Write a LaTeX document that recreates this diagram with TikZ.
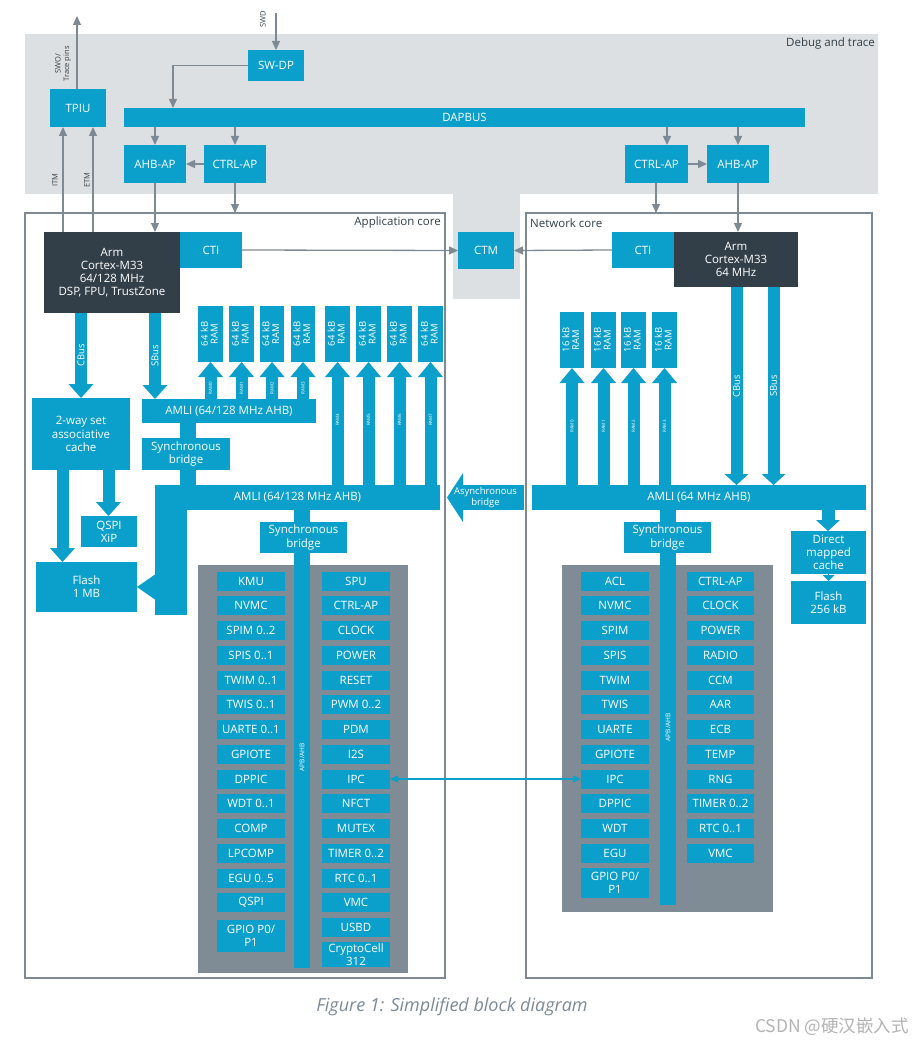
\documentclass[tikz,border=0pt]{standalone}
\usepackage{fontspec}
\setmainfont{Open Sans}
\newfontfamily\cjkf{Noto Sans CJK SC}
\usetikzlibrary{arrows.meta,calc}
\pgfdeclarelayer{bg}\pgfdeclarelayer{mid}\pgfsetlayers{bg,mid,main}
\definecolor{nblue}{HTML}{0BA0CB}
\definecolor{ndark}{HTML}{333F48}
\definecolor{dbg}{HTML}{DCE0E2}
\definecolor{pgray}{HTML}{7F8B95}
\definecolor{lgray}{HTML}{7E8A93}
\definecolor{txtd}{HTML}{333F48}
\definecolor{capc}{HTML}{7D8A96}
\definecolor{wmc}{HTML}{B4B4B4}
\tikzset{
 blk/.style={fill=nblue,text=white,inner sep=0pt,outer sep=0pt,align=center,font=\fontsize{11.5}{13.2}\selectfont},
 tarr/.style={draw=lgray,line width=1.3pt,-{Triangle[length=9pt,width=8pt]}},
 fat/.style={draw=nblue,line width=12pt,-{Triangle[length=14pt,width=25pt,line width=0pt]}},
 fatR/.style={draw=nblue,line width=12pt,-{Triangle[length=11pt,width=24pt,line width=0pt]}},
 ramarr/.style={draw=nblue,line width=12pt,-{Triangle[length=15pt,width=25pt,line width=0pt]}},
 bar/.style={draw=nblue,line width=16pt},
 lbl/.style={text=txtd,font=\fontsize{7.5}{8.5}\selectfont,inner sep=0pt,align=center},
 wl/.style={text=white,inner sep=0pt},
}
\newcommand\bx[7][]{\node[blk,minimum width={(#5)-(#3)},minimum height={(#6)-(#4)},#1] (#2) at ({((#3)+(#5))/2},{((#4)+(#6))/2}) {#7};}
\newcommand\per[5]{\node[blk,minimum width={(#3)-(#2)},minimum height=19] (#1) at ({((#2)+(#3))/2},{581+24.75*(#4)}) {#5};}
\newcommand\ramlbl[1]{\rotatebox{90}{\fontsize{9.5}{9.5}\selectfont\begin{tabular}{@{}c@{}}#1\\RAM\end{tabular}}}
\newcommand\busf{\fontsize{9.5}{10}\selectfont}
\newcommand\tinyf{\fontsize{4.5}{5}\selectfont}
\begin{document}
\begin{tikzpicture}[x=1pt,y=-1pt]
\useasboundingbox (0,0) rectangle (913,1043);
\foreach \v/\n in {63/63,77/77,93/93,155/155,173/173,188/188,235/235,656/656,667/667,738/738,828/828,171/171,81/81,62.5/62,108.5/108,736.5/737,773.5/774} {\coordinate (c\n) at (\v,0);}
\begin{pgfonlayer}{bg}
\fill[white] (0,0) rectangle (913,1043);
\fill[dbg] (25,34) rectangle (878,194);
\fill[dbg] (453,193) rectangle (520,299);
\bx[fill=pgray]{perL}{198}{565}{408}{973}{}
\bx[fill=pgray]{perR}{562}{565}{773}{912}{}
\end{pgfonlayer}
% debug and trace
\node[text=txtd,font=\fontsize{11.5}{12}\selectfont,anchor=east,inner sep=0pt] (dbglbl) at (875,44) {Debug and trace};
\bx{swdp}{248}{50}{304}{81}{SW-DP}
\bx{tpiu}{50}{89}{106}{127}{TPIU}
\bx{dapbus}{124}{108}{805}{127}{DAPBUS}
\bx{ahbL}{124}{145}{186}{183}{AHB-AP}
\bx{ctrlL}{204}{145}{266}{183}{CTRL-AP}
\bx{ctrlR}{625}{145}{688}{183}{CTRL-AP}
\bx{ahbR}{707}{145}{769}{183}{AHB-AP}
% cores
\bx[fill=none,draw=lgray,line width=1.2pt]{appcore}{25}{213}{445}{978}{}
\bx[fill=none,draw=lgray,line width=1.2pt]{netcore}{526}{213}{872}{978}{}
\node[text=txtd,font=\fontsize{11.5}{12}\selectfont,anchor=east,inner sep=0pt] (applbl) at (441,223) {Application core};
\node[text=txtd,font=\fontsize{11.5}{12}\selectfont,anchor=west,inner sep=0pt] (netlbl) at (530,223) {Network core};
\bx[fill=ndark]{cpuL}{44}{232}{180}{313}{Arm\\Cortex-M33\\64/128 MHz\\DSP, FPU, TrustZone}
\bx{ctiL}{180}{232}{242}{268}{CTI}
\bx{ctm}{458}{232}{514}{269}{CTM}
\bx{ctiR}{612}{232}{674}{268}{CTI}
\bx[fill=ndark]{cpuR}{674}{232}{798}{287}{Arm\\Cortex-M33\\64 MHz}
% application core memory
\bx{cacheL}{32}{398}{130}{470}{2-way set\\associative\\cache}
\bx{qspix}{81}{516}{137}{547}{QSPI\\XiP}
\bx{flashL}{36}{562}{137}{612}{Flash\\1 MB}
\bx{amliU}{142}{399}{316}{423}{AMLI (64/128 MHz AHB)}
\bx{sbU}{142}{438}{230}{470}{Synchronous\\bridge}
\bx{amliL}{155}{485}{440}{510}{AMLI (64/128 MHz AHB)}
\bx{sbL}{260}{522}{347}{553}{Synchronous\\bridge}
\bx{ramL0}{198}{306}{223}{362}{\ramlbl{64 kB}}
\bx{ramL1}{229}{306}{254}{362}{\ramlbl{64 kB}}
\bx{ramL2}{260}{306}{284}{362}{\ramlbl{64 kB}}
\bx{ramL3}{291}{306}{315}{362}{\ramlbl{64 kB}}
\bx{ramL4}{325}{306}{350}{362}{\ramlbl{64 kB}}
\bx{ramL5}{356}{306}{381}{362}{\ramlbl{64 kB}}
\bx{ramL6}{387}{306}{412}{362}{\ramlbl{64 kB}}
\bx{ramL7}{418}{306}{443}{362}{\ramlbl{64 kB}}
% network core memory
\bx{ramR0}{560}{312}{584}{368}{\ramlbl{16 kB}}
\bx{ramR1}{591}{312}{616}{368}{\ramlbl{16 kB}}
\bx{ramR2}{621}{312}{646}{368}{\ramlbl{16 kB}}
\bx{ramR3}{652}{312}{677}{368}{\ramlbl{16 kB}}
\bx{amliR}{532}{485}{866}{510}{AMLI (64 MHz AHB)}
\bx{sbR}{624}{522}{711}{553}{Synchronous\\bridge}
\bx{dmc}{791}{531}{866}{574}{Direct\\mapped\\cache}
\bx{flashR}{791}{581}{866}{624}{Flash\\256 kB}
% application peripherals
\per{aKMU}{217}{285}{0}{KMU}
\per{aNVMC}{217}{285}{1}{NVMC}
\per{aSPIM}{217}{285}{2}{SPIM 0..2}
\per{aSPIS}{217}{285}{3}{SPIS 0..1}
\per{aTWIM}{217}{285}{4}{TWIM 0..1}
\per{aTWIS}{217}{285}{5}{TWIS 0..1}
\per{aUARTE}{217}{285}{6}{UARTE 0..1}
\per{aGPIOTE}{217}{285}{7}{GPIOTE}
\per{aDPPIC}{217}{285}{8}{DPPIC}
\per{aWDT}{217}{285}{9}{WDT 0..1}
\per{aCOMP}{217}{285}{10}{COMP}
\per{aLPCOMP}{217}{285}{11}{LPCOMP}
\per{aEGU}{217}{285}{12}{EGU 0..5}
\per{aQSPI}{217}{285}{13}{QSPI}
\bx{aGPIO}{217}{920}{285}{952}{GPIO P0/\\P1}
\per{aSPU}{322}{390}{0}{SPU}
\per{aCTRLAP}{322}{390}{1}{CTRL-AP}
\per{aCLOCK}{322}{390}{2}{CLOCK}
\per{aPOWER}{322}{390}{3}{POWER}
\per{aRESET}{322}{390}{4}{RESET}
\per{aPWM}{322}{390}{5}{PWM 0..2}
\per{aPDM}{322}{390}{6}{PDM}
\per{aI2S}{322}{390}{7}{I2S}
\per{aIPC}{322}{390}{8}{IPC}
\per{aNFCT}{322}{390}{9}{NFCT}
\per{aMUTEX}{322}{390}{10}{MUTEX}
\per{aTIMER}{322}{390}{11}{TIMER 0..2}
\per{aRTC}{322}{390}{12}{RTC 0..1}
\per{aVMC}{322}{390}{13}{VMC}
\per{aUSBD}{322}{390}{14}{USBD}
\bx{aCC}{322}{942}{390}{967}{CryptoCell\\312}
% network peripherals
\per{nACL}{581}{649}{0}{ACL}
\per{nNVMC}{581}{649}{1}{NVMC}
\per{nSPIM}{581}{649}{2}{SPIM}
\per{nSPIS}{581}{649}{3}{SPIS}
\per{nTWIM}{581}{649}{4}{TWIM}
\per{nTWIS}{581}{649}{5}{TWIS}
\per{nUARTE}{581}{649}{6}{UARTE}
\per{nGPIOTE}{581}{649}{7}{GPIOTE}
\per{nIPC}{581}{649}{8}{IPC}
\per{nDPPIC}{581}{649}{9}{DPPIC}
\per{nWDT}{581}{649}{10}{WDT}
\per{nEGU}{581}{649}{11}{EGU}
\bx{nGPIO}{581}{868}{649}{898}{GPIO P0/\\P1}
\per{nCTRLAP}{687}{754}{0}{CTRL-AP}
\per{nCLOCK}{687}{754}{1}{CLOCK}
\per{nPOWER}{687}{754}{2}{POWER}
\per{nRADIO}{687}{754}{3}{RADIO}
\per{nCCM}{687}{754}{4}{CCM}
\per{nAAR}{687}{754}{5}{AAR}
\per{nECB}{687}{754}{6}{ECB}
\per{nTEMP}{687}{754}{7}{TEMP}
\per{nRNG}{687}{754}{8}{RNG}
\per{nTIMER}{687}{754}{9}{TIMER 0..2}
\per{nRTC}{687}{754}{10}{RTC 0..1}
\per{nVMC}{687}{754}{11}{VMC}
% thin connectors
\coordinate (swdin) at (276,13);
\coordinate (swoout) at (77,16);
\draw[tarr] (swdin) -- (swdin |- swdp.north);
\draw[tarr] (swoout |- tpiu.north) -- (swoout);
\draw[tarr] (swdp.west) -| (c173 |- dapbus.north);
\draw[tarr] (c63 |- cpuL.north) -- (c63 |- tpiu.south);
\draw[tarr] (c93 |- cpuL.north) -- (c93 |- tpiu.south);
\draw[tarr] (c155 |- dapbus.south) -- (c155 |- ahbL.north);
\draw[tarr] (c235 |- dapbus.south) -- (c235 |- ctrlL.north);
\draw[tarr] (c667 |- dapbus.south) -- (c667 |- ctrlR.north);
\draw[tarr] (c738 |- dapbus.south) -- (c738 |- ahbR.north);
\draw[tarr] (ctrlL.west) -- (ahbL.east);
\draw[tarr] (ctrlR.east) -- (ahbR.west);
\draw[tarr] (c155 |- ahbL.south) -- (c155 |- cpuL.north);
\draw[tarr] (c235 |- ctrlL.south) -- (c235 |- appcore.north);
\draw[tarr] (c656 |- ctrlR.south) -- (c656 |- netcore.north);
\draw[tarr] (c738 |- ahbR.south) -- (c738 |- cpuR.north);
\draw[tarr] (ctiL.east) -- (ctm.west);
\draw[tarr] (ctiR.west) -- (ctm.east);
\draw[draw=nblue,line width=1.2pt,{Triangle[length=8pt,width=7pt]}-{Triangle[length=8pt,width=7pt]}] (aIPC.east) -- (nIPC.west);
\node[lbl,rotate=90] (swdlbl) at (263,19) {SWD};
\node[lbl,rotate=90] (swolbl) at (63,64) {SWO/\\Trace pins};
\node[lbl,rotate=90] (itmlbl) at (55,180) {ITM};
\node[lbl,rotate=90] (etmlbl) at (87,180) {ETM};
% thick buses
\begin{pgfonlayer}{mid}
\draw[fat] (c81 |- cpuL.south) -- (c81 |- cacheL.north) node[pos=.5,wl,rotate=90,font=\busf]{CBus};
\draw[fat] (c155 |- cpuL.south) -- (c155 |- amliU.north) node[pos=.5,wl,rotate=90,font=\busf]{SBus};
\draw[fat] (c62 |- cacheL.south) -- (c62 |- flashL.north);
\draw[fat] (c108 |- cacheL.south) -- (c108 |- qspix.north);
\draw[fatR] (c737 |- cpuR.south) -- (c737 |- amliR.north) node[pos=.5,wl,rotate=90,font=\busf]{CBus};
\draw[fatR] (c774 |- cpuR.south) -- (c774 |- amliR.north) node[pos=.5,wl,rotate=90,font=\busf]{SBus};
\draw[draw=nblue,line width=13pt,-{Triangle[length=11pt,width=24pt,line width=0pt]}] (c828 |- amliR.south) -- (c828 |- dmc.north);
\draw[draw=nblue,line width=0.1pt,-{Triangle[length=6pt,width=12pt,line width=0pt]}] (dmc.south) -- (flashR.north);
\foreach \i in {0,...,3} {\draw[ramarr] (ramL\i.south |- amliU.north) -- (ramL\i.south) node[pos=.3,wl,rotate=90,font=\tinyf]{RAM\i};}
\foreach \i in {4,...,7} {\draw[ramarr] (ramL\i.south |- amliL.north) -- (ramL\i.south) node[pos=.53,wl,rotate=90,font=\tinyf]{RAM\i};}
\foreach \i in {0,...,3} {\draw[ramarr] (ramR\i.south |- amliR.north) -- (ramR\i.south) node[pos=.5,wl,rotate=90,font=\tinyf]{RAM\i};}
\draw[bar] (c188 |- amliU.south) -- (c188 |- amliL.north);
\coordinate (apbL) at (302,968);
\coordinate (apbR) at (668,905);
\draw[bar] (apbL |- amliL.south) -- (apbL) node[pos=.54,wl,rotate=90,font=\fontsize{6.5}{7}\selectfont]{APB/AHB};
\draw[bar] (apbR |- amliR.south) -- (apbR) node[pos=.55,wl,rotate=90,font=\fontsize{6.5}{7}\selectfont]{APB/AHB};
\fill[nblue] (amliL.south west) rectangle ++(32,105);
\draw[draw=nblue,line width=12pt,-{Triangle[length=18pt,width=25pt,line width=0pt]}] (flashL.east -| c171) -- (flashL.east);
\draw[draw=nblue,line width=25pt,-{Triangle[length=16pt,width=49pt,line width=0pt]}] ($(amliR.west)+(-8,0)$) -- ($(amliL.east)+(7,0)$) node[midway,wl,align=center,font=\fontsize{9.5}{10.5}\selectfont]{Asynchronous\\bridge};
\end{pgfonlayer}
% caption
\node[text=capc,font=\itshape\fontsize{18}{20}\selectfont,inner sep=0pt] (cap) at (452,1007) {Figure 1: Simplified block diagram};
\node[text=wmc,font=\cjkf\fontsize{17.5}{19}\selectfont,anchor=east,inner sep=0pt] (wm) at (909,1027) {CSDN @硬汉嵌入式};
\end{tikzpicture}
\end{document}
